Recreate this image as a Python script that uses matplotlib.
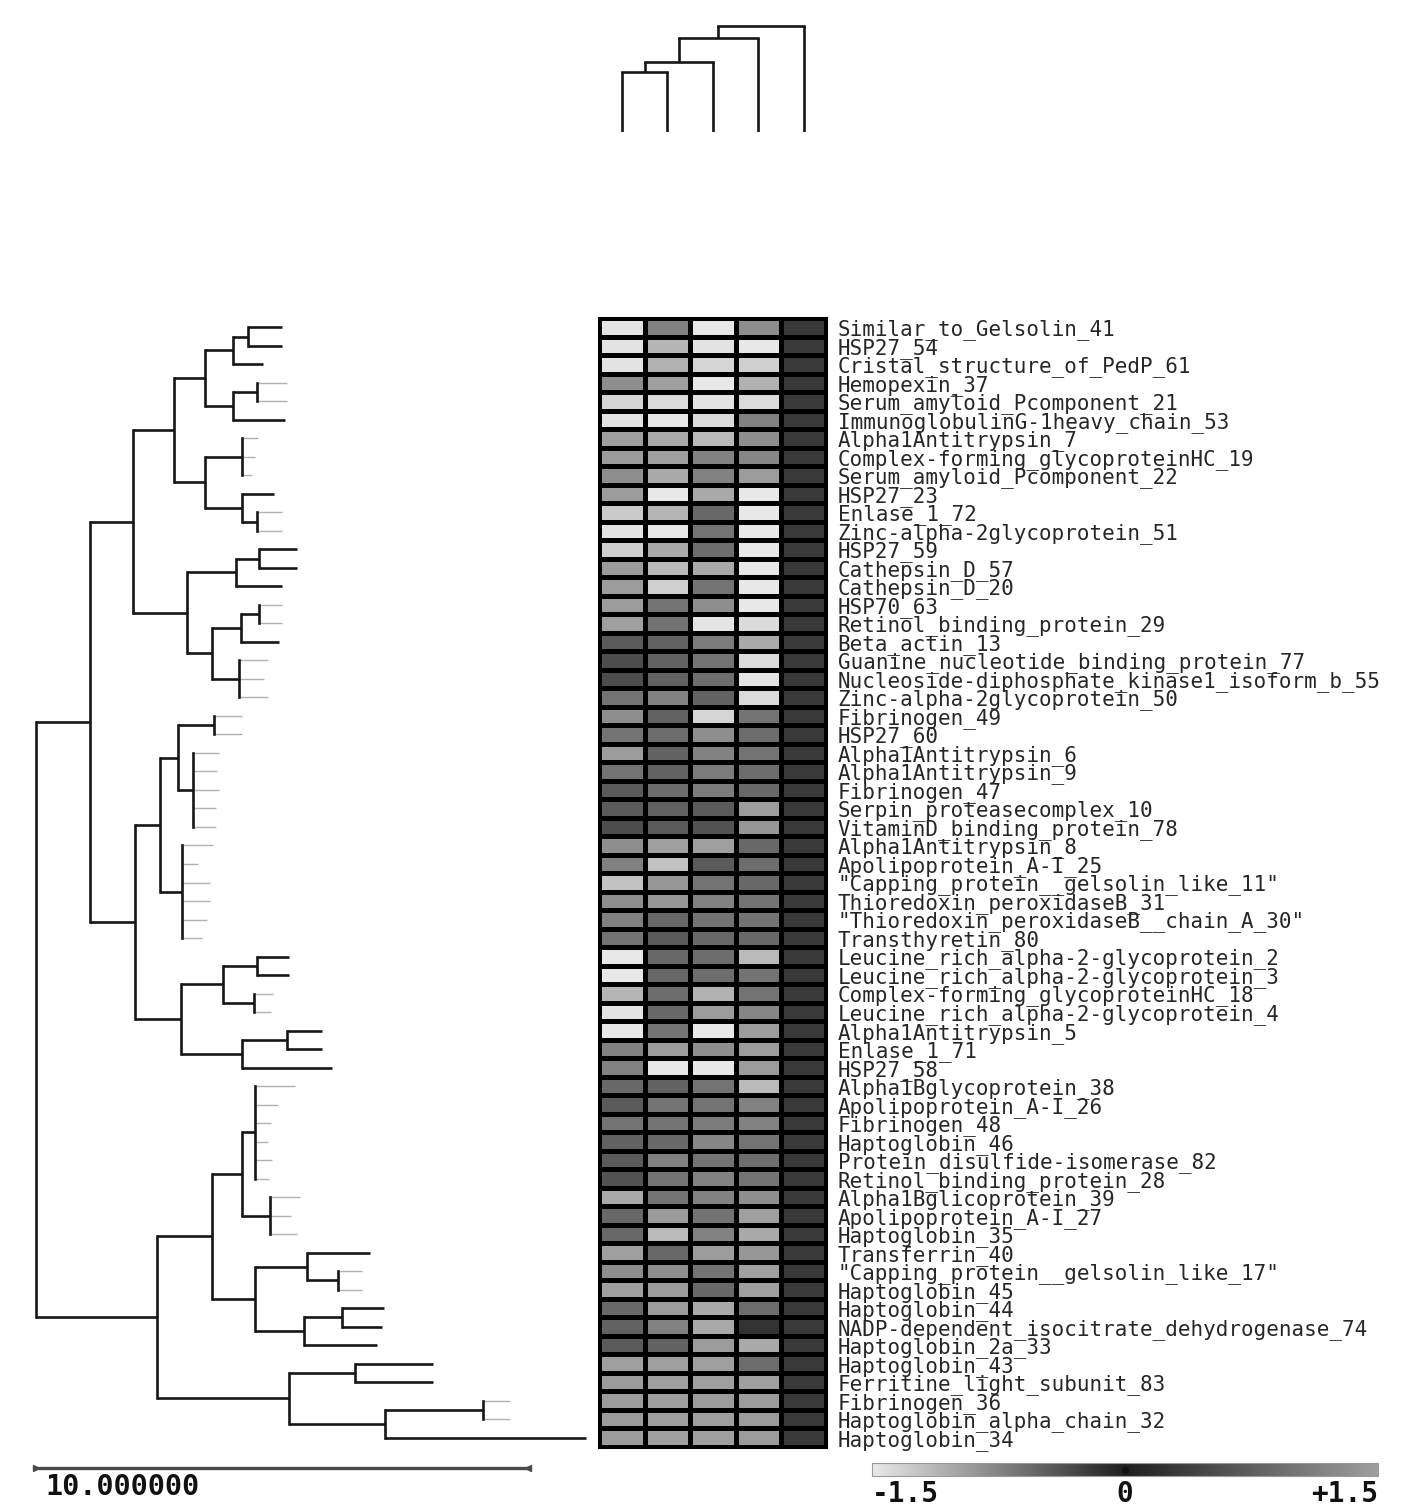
import numpy as np
import matplotlib
matplotlib.use("Agg")
import matplotlib.pyplot as plt
from matplotlib.colors import LinearSegmentedColormap, Normalize

# ---------------- data ----------------
proteins = [
    "Similar_to_Gelsolin_41", "HSP27_54", "Cristal_structure_of_PedP_61", "Hemopexin_37",
    "Serum_amyloid_Pcomponent_21", "ImmunoglobulinG-1heavy_chain_53", "Alpha1Antitrypsin_7",
    "Complex-forming_glycoproteinHC_19", "Serum_amyloid_Pcomponent_22", "HSP27_23", "Enlase_1_72",
    "Zinc-alpha-2glycoprotein_51", "HSP27_59", "Cathepsin_D_57", "Cathepsin_D_20", "HSP70_63",
    "Retinol_binding_protein_29", "Beta_actin_13", "Guanine_nucleotide_binding_protein_77",
    "Nucleoside-diphosphate_kinase1_isoform_b_55", "Zinc-alpha-2glycoprotein_50", "Fibrinogen_49",
    "HSP27_60", "Alpha1Antitrypsin_6", "Alpha1Antitrypsin_9", "Fibrinogen_47",
    "Serpin_proteasecomplex_10", "VitaminD_binding_protein_78", "Alpha1Antitrypsin_8",
    "Apolipoprotein_A-I_25", "\"Capping_protein__gelsolin_like_11\"", "Thioredoxin_peroxidaseB_31",
    "\"Thioredoxin_peroxidaseB__chain_A_30\"", "Transthyretin_80",
    "Leucine_rich_alpha-2-glycoprotein_2", "Leucine_rich_alpha-2-glycoprotein_3",
    "Complex-forming_glycoproteinHC_18", "Leucine_rich_alpha-2-glycoprotein_4",
    "Alpha1Antitrypsin_5", "Enlase_1_71", "HSP27_58", "Alpha1Bglycoprotein_38",
    "Apolipoprotein_A-I_26", "Fibrinogen_48", "Haptoglobin_46", "Protein_disulfide-isomerase_82",
    "Retinol_binding_protein_28", "Alpha1Bglicoprotein_39", "Apolipoprotein_A-I_27",
    "Haptoglobin_35", "Transferrin_40", "\"Capping_protein__gelsolin_like_17\"", "Haptoglobin_45",
    "Haptoglobin_44", "NADP-dependent_isocitrate_dehydrogenase_74", "Haptoglobin_2a_33",
    "Haptoglobin_43", "Ferritine_light_subunit_83", "Fibrinogen_36", "Haptoglobin_alpha_chain_32",
    "Haptoglobin_34",
]

col1 = [-1.46, -1.46, -1.46, -0.83, -1.35, -1.46, -0.96, -0.92, -0.83, -0.92,
        -1.27, -1.46, -1.31, -0.92, -0.92, -0.92, -0.96, -0.44, -0.35, -0.35,
        -0.63, -0.83, -0.63, -0.92, -0.63, -0.44, -0.44, -0.35, -0.83, -0.73,
        -1.21, -0.83, -0.73, -0.63, -1.50, -1.50, -1.12, -1.46, -1.50, -0.73,
        -0.73, -0.54, -0.44, -0.63, -0.50, -0.44, -0.38, -1.02, -0.54, -0.54,
        -0.96, -0.83, -0.96, -0.54, -0.50, -0.44, -0.96, -0.92, -0.92, -0.92,
        -0.92]
col2 = [-0.73, -1.12, -1.08, -0.96, -1.40, -1.50, -1.02, -0.96, -1.02, -1.50,
        -1.12, -1.50, -1.02, -1.15, -1.31, -0.63, -0.63, -0.50, -0.50, -0.50,
        -0.73, -0.50, -0.58, -0.50, -0.50, -0.58, -0.50, -0.44, -0.96, -1.21,
        -0.88, -0.88, -0.54, -0.44, -0.54, -0.54, -0.58, -0.54, -0.63, -0.92,
        -1.50, -0.50, -0.63, -0.63, -0.54, -0.73, -0.63, -0.63, -0.92, -1.15,
        -0.54, -0.83, -0.92, -0.92, -0.73, -0.50, -0.96, -0.96, -0.96, -0.96,
        -0.96]
col3 = [-1.50, -1.46, -1.35, -1.50, -1.46, -1.40, -1.15, -0.73, -0.73, -1.02,
        -0.54, -0.63, -0.58, -1.02, -0.63, -0.83, -1.46, -0.69, -0.63, -0.58,
        -0.50, -1.35, -0.83, -0.73, -0.69, -0.69, -0.44, -0.38, -0.96, -0.44,
        -0.63, -0.73, -0.63, -0.54, -0.58, -0.58, -1.08, -0.92, -1.50, -0.83,
        -1.50, -0.63, -0.63, -0.69, -0.77, -0.63, -0.73, -0.73, -0.63, -0.73,
        -0.92, -0.63, -0.54, -1.02, -1.02, -0.92, -0.96, -0.96, -0.92, -0.96,
        -0.96]
col4 = [-0.83, -1.50, -1.31, -1.08, -1.40, -0.73, -0.83, -0.77, -0.92, -1.50,
        -1.50, -1.50, -1.50, -1.50, -1.50, -1.50, -1.40, -1.02, -1.40, -1.46,
        -1.40, -0.63, -0.58, -0.63, -0.58, -0.54, -0.92, -0.88, -0.54, -0.58,
        -0.54, -0.63, -0.63, -0.54, -1.15, -0.63, -0.63, -0.77, -0.92, -0.92,
        -0.92, -1.15, -0.73, -0.73, -0.63, -0.58, -0.63, -0.83, -0.96, -1.02,
        -0.88, -0.96, -0.96, -0.58, -0.15, -1.02, -0.58, -0.96, -0.92, -0.92,
        -0.92]
col5 = [-0.19, -0.19, -0.19, -0.19, -0.19, -0.19, -0.19, -0.19, -0.19, -0.19,
        -0.19, -0.19, -0.19, -0.19, -0.19, -0.19, -0.19, -0.19, -0.19, -0.19,
        -0.19, -0.19, -0.19, -0.19, -0.19, -0.19, -0.19, -0.19, -0.19, -0.19,
        -0.19, -0.19, -0.19, -0.19, -0.19, -0.19, -0.19, -0.19, -0.19, -0.19,
        -0.19, -0.19, -0.19, -0.19, -0.19, -0.19, -0.19, -0.19, -0.19, -0.19,
        -0.19, -0.19, -0.19, -0.19, -0.19, -0.19, -0.19, -0.19, -0.19, -0.19,
        -0.19]

# tip distance of every leaf branch (tree units, scale bar = 10)
leaf_tip = [5.00, 5.00, 4.61, 5.10, 5.10, 5.06, 4.51, 4.45, 4.39, 4.84,
            5.00, 5.00, 5.30, 5.30, 5.00, 5.00, 5.00, 4.94, 4.72, 4.63,
            4.72, 4.19, 4.19, 3.72, 3.68, 3.72, 3.66, 3.66, 3.60, 3.29,
            3.54, 3.54, 3.48, 3.37, 5.14, 5.14, 4.82, 4.78, 5.81, 5.81,
            6.02, 5.26, 4.92, 4.78, 4.72, 4.80, 4.74, 5.37, 5.18, 5.30,
            6.79, 6.63, 6.63, 7.07, 7.03, 6.93, 8.07, 8.07, 9.63, 9.63,
            11.18]
# leaf branches drawn faint in the original
leaf_faint = [0, 0, 0, 1, 1, 0, 1, 1, 1, 0,
              1, 1, 0, 0, 0, 1, 1, 0, 1, 1,
              1, 1, 1, 1, 1, 1, 1, 1, 1, 1,
              1, 1, 1, 1, 0, 0, 1, 1, 0, 0,
              0, 1, 1, 1, 1, 1, 1, 1, 1, 1,
              0, 1, 1, 0, 0, 0, 0, 0, 1, 1,
              0]

# row tree: (node distance from root, [children]); ints = 1-based leaf rows
row_tree = (0.00, [
    (1.10, [
        (1.97, [
            (2.80, [
                (3.43, [(4.00, [(4.31, [1, 2]), 3]), (4.00, [(4.49, [4, 5]), 6])]),
                (3.43, [(4.19, [7, 8, 9]), (4.19, [10, (4.49, [11, 12])])]),
            ]),
            (3.07, [
                (4.07, [(4.53, [13, 14]), 15]),
                (3.58, [(4.17, [(4.53, [16, 17]), 18]), (4.13, [19, 20, 21])]),
            ]),
        ]),
        (2.01, [
            (2.52, [
                (2.89, [(3.62, [22, 23]), (3.19, [24, 25, 26, 27, 28])]),
                (2.97, [29, 30, 31, 32, 33, 34]),
            ]),
            (2.95, [
                (3.80, [(4.49, [35, 36]), (4.43, [37, 38])]),
                (4.19, [(5.10, [39, 40]), 41]),
            ]),
        ]),
    ]),
    (2.46, [
        (3.58, [
            (4.19, [(4.45, [42, 43, 44, 45, 46, 47]), (4.76, [48, 49, 50])]),
            (4.45, [(5.51, [51, (6.14, [52, 53])]), (5.45, [(6.22, [54, 55]), 56])]),
        ]),
        (5.14, [(6.48, [57, 58]), (7.09, [(9.09, [59, 60]), 61])]),
    ]),
])

# column tree (height units)
col_tree = (10.6, [(9.4, [(7.0, [(6.0, [1, 2]), 3]), 4]), 5])

cbar_ticks = [-1.5, 0.0, 1.5]
cbar_labels = ["-1.5", "0", "+1.5"]
scale_length = 10.0
scale_label = "10.000000"

# ---------------- figure ----------------
W, H = 1416, 1512
fig = plt.figure(figsize=(W / 100, H / 100), dpi=100)
fig.patch.set_facecolor("white")

def frac(x0, y0, x1, y1):
    return [x0 / W, 1 - y1 / H, (x1 - x0) / W, (y1 - y0) / H]

DARK = "#161616"
FAINT = "#b2b2b2"
LABEL_FONT = ["DejaVu Sans Mono"]
NUM_FONT = ["DejaVu Sans Mono"]
n_rows = len(proteins)

cmap = LinearSegmentedColormap.from_list(
    "gk", [(0.0, (0.91, 0.91, 0.91)), (0.5, (0.12, 0.12, 0.12)), (1.0, (0.62, 0.62, 0.62))])
norm = Normalize(-1.5, 1.5)

# heatmap
HX0, HX1, HY0, HY1 = 599, 826.5, 318, 1447
ax_h = fig.add_axes(frac(HX0, HY0, HX1, HY1))
data = np.array([col1, col2, col3, col4, col5]).T
mesh = ax_h.pcolormesh(np.arange(6), np.arange(n_rows + 1), data, cmap=cmap, norm=norm,
                       edgecolors="black", linewidth=2.2)
ax_h.set_xlim(0, 5)
ax_h.set_ylim(n_rows, 0)
ax_h.set_xticks([])
ax_h.yaxis.tick_right()
ax_h.set_yticks(np.arange(n_rows) + 0.5)
ax_h.set_yticklabels(proteins, fontfamily=LABEL_FONT, fontsize=15, color="#262626")
ax_h.tick_params(axis="y", length=0, pad=8)
for s in ax_h.spines.values():
    s.set_linewidth(2.2)
    s.set_color("black")

# tree drawing
def draw_tree(ax, node, pos, tip, faint, horizontal):
    if isinstance(node, int):
        return pos[node - 1], tip[node - 1]
    h, kids = node
    res = [draw_tree(ax, k, pos, tip, faint, horizontal) for k in kids]
    ps = [r[0] for r in res]
    for (p, kh), k in zip(res, kids):
        is_faint = isinstance(k, int) and faint[k - 1]
        c = FAINT if is_faint else DARK
        lw = 1.0 if is_faint else 1.9
        z = 1 if is_faint else 2
        if horizontal:
            ax.plot([h, kh], [p, p], color=c, lw=lw, zorder=z, solid_capstyle="butt")
        else:
            ax.plot([p, p], [h, kh], color=c, lw=lw, zorder=z, solid_capstyle="butt")
    if horizontal:
        ax.plot([h, h], [min(ps), max(ps)], color=DARK, lw=1.9, zorder=3, solid_capstyle="projecting")
    else:
        ax.plot([min(ps), max(ps)], [h, h], color=DARK, lw=1.9, zorder=3, solid_capstyle="projecting")
    return (min(ps) + max(ps)) / 2, h

PX_PER_UNIT = 49.2
ROOT_PX = 36
ax_l = fig.add_axes(frac(0, HY0, 598, HY1))
draw_tree(ax_l, row_tree, list(np.arange(n_rows) + 0.5), leaf_tip, leaf_faint, True)
ax_l.set_xlim(-ROOT_PX / PX_PER_UNIT, (598 - ROOT_PX) / PX_PER_UNIT)
ax_l.set_ylim(n_rows, 0)
ax_l.axis("off")

ax_t = fig.add_axes(frac(HX0, 12, HX1, 132))
draw_tree(ax_t, col_tree, list(np.arange(5) + 0.5), [0.0] * 5, [0] * 5, False)
ax_t.set_xlim(0, 5)
ax_t.set_ylim(0, 12)
ax_t.axis("off")

# scale bar
ax_s = fig.add_axes(frac(0, 1458, 598, 1478))
ax_s.plot([0, scale_length], [0, 0], color="#4a4a4a", lw=2.4)
ax_s.plot([0], [0], marker=">", color="#4a4a4a", ms=5)
ax_s.plot([scale_length], [0], marker="<", color="#4a4a4a", ms=5)
ax_s.set_xlim(-ROOT_PX / PX_PER_UNIT, (598 - ROOT_PX) / PX_PER_UNIT)
ax_s.set_ylim(-1, 1)
ax_s.axis("off")
fig.text(45 / W, 1 - 1487 / H, scale_label, fontfamily=NUM_FONT, fontweight="bold",
         fontsize=20.5, ha="left", va="center", color="#111111")

# colour bar
ax_c = fig.add_axes(frac(872, 1463, 1378, 1476))
cb = fig.colorbar(mesh, cax=ax_c, orientation="horizontal")
cb.set_ticks(cbar_ticks)
cb.set_ticklabels(cbar_labels)
cb.outline.set_edgecolor("#9a9a9a")
cb.outline.set_linewidth(0.8)
ax_c.tick_params(axis="x", length=0, pad=3)
for lab in ax_c.get_xticklabels():
    lab.set_fontfamily(NUM_FONT)
    lab.set_fontweight("bold")
    lab.set_fontsize(20)
    lab.set_color("#111111")
labs = ax_c.get_xticklabels()
labs[0].set_ha("left")
labs[-1].set_ha("right")
ax_c.plot([0.0], [0.5], marker="o", color="#111111", ms=4, transform=ax_c.get_xaxis_transform(),
          clip_on=False)

fig.savefig("out.png", dpi=100)
